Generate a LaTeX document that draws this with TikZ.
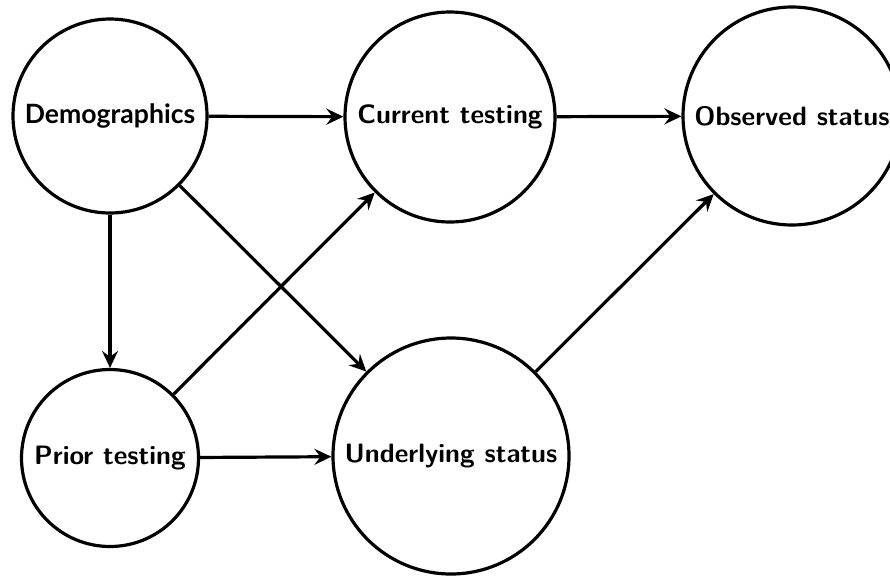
\documentclass[tikz,border=0pt]{standalone}
\usepackage{fontspec}
\newfontfamily\latofont{Lato}
\usetikzlibrary{arrows.meta}
\tikzset{
  vnode/.style={circle,draw,line width=3.2pt,inner sep=0pt,align=center,font=\fontsize{26.6}{30}\selectfont\sffamily\bfseries},
  conn/.style={line width=3.2pt,-{Stealth[length=17pt,width=16pt,inset=6pt]}}
}
\begin{document}
\begin{tikzpicture}[x=1pt,y=-1pt]
\useasboundingbox (0,0) rectangle (890,576);
\node[vnode,minimum size=194pt,font=\fontsize{26.6}{30}\selectfont\latofont\bfseries] (dem) at (110,116) {Demographics};
\node[vnode,minimum size=210pt] (cur) at (450,117) {Current testing};
\node[vnode,minimum size=218pt] (obs) at (792,116) {Observed status};
\node[vnode,minimum size=177pt] (pri) at (110,458) {Prior testing};
\node[vnode,minimum size=236pt] (und) at (451,456) {Underlying status};
\draw[conn] (dem) -- (cur);
\draw[conn] (cur) -- (obs);
\draw[conn] (dem) -- (pri);
\draw[conn] (dem) -- (und);
\draw[conn] (pri) -- (cur);
\draw[conn] (pri) -- (und);
\draw[conn] (und) -- (obs);
\end{tikzpicture}
\end{document}
